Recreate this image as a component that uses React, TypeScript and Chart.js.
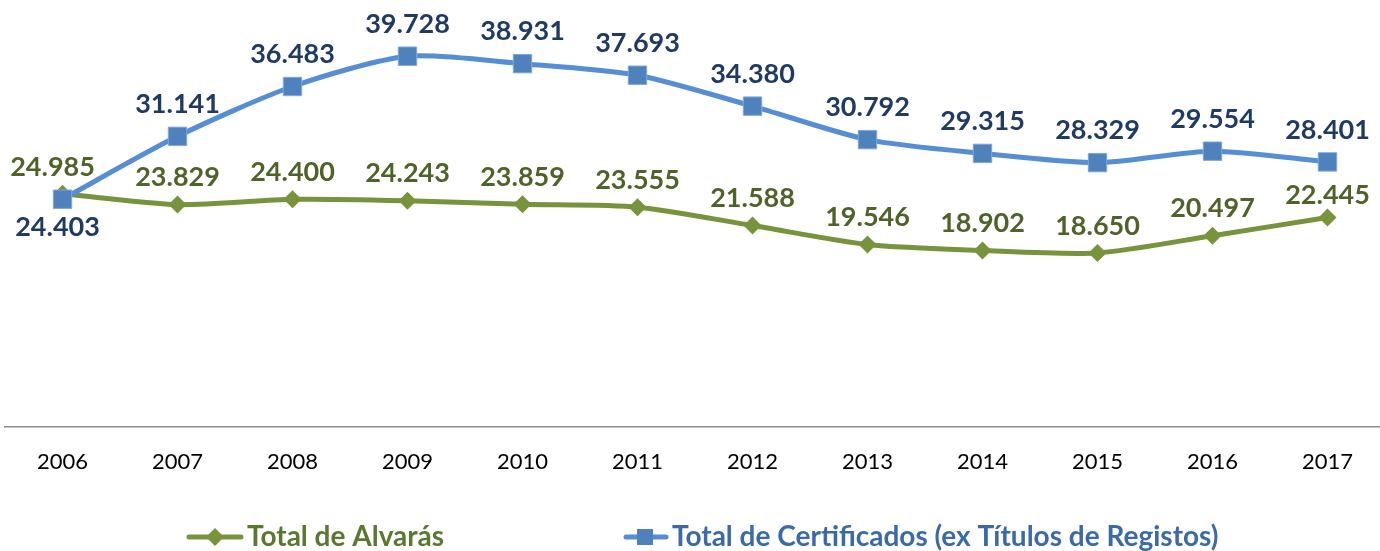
import React, { useEffect, useRef } from "react";
import { Chart, registerables } from "chart.js";

Chart.register(...registerables);

const years = ["2006", "2007", "2008", "2009", "2010", "2011", "2012", "2013", "2014", "2015", "2016", "2017"];
const alvaras = [24985, 23829, 24400, 24243, 23859, 23555, 21588, 19546, 18902, 18650, 20497, 22445];
const certificados = [24403, 31141, 36483, 39728, 38931, 37693, 34380, 30792, 29315, 28329, 29554, 28401];
const seriesNames = ["Total de Alvarás", "Total de Certificados (ex Títulos de Registos)"];

const GREEN_LINE = "#77933C";
const GREEN_TEXT = "#4F6228";
const GREEN_LEGEND = "#5A7830";
const BLUE_LINE = "#558ED5";
const BLUE_MARK = "#4F81BD";
const BLUE_TEXT = "#1F3B63";
const BLUE_LEGEND = "#3A6BA8";

function fmt(v: number): string {
  const th = Math.floor(v / 1000);
  const rest = String(v % 1000).padStart(3, "0");
  return th + "." + rest;
}

const labelPlugin = {
  id: "valueLabels",
  afterDatasetsDraw(chart: any) {
    const ctx = chart.ctx;
    ctx.save();
    ctx.font = "bold 27px Lato";
    ctx.textAlign = "center";
    ctx.textBaseline = "middle";
    chart.data.datasets.forEach((ds: any, di: number) => {
      const meta = chart.getDatasetMeta(di);
      const n = meta.data.length;
      meta.data.forEach((pt: any, i: number) => {
        let x = pt.x;
        let y = pt.y;
        if (di === 0) {
          y -= 27;
          if (i === 0) x -= 10;
          if (i === n - 1) y += 5;
          ctx.fillStyle = GREEN_TEXT;
        } else {
          if (i === 0) {
            y += 28;
            x -= 5;
          } else y -= 32;
          ctx.fillStyle = BLUE_TEXT;
        }
        ctx.fillText(fmt(ds.data[i]), x, y);
      });
    });
    ctx.restore();
  },
};

const legendPlugin = {
  id: "customLegend",
  afterDraw(chart: any) {
    const ctx = chart.ctx;
    const y = 537;
    ctx.save();
    ctx.strokeStyle = GREEN_LINE;
    ctx.lineWidth = 5;
    ctx.lineCap = "round";
    ctx.beginPath();
    ctx.moveTo(189, y);
    ctx.lineTo(241, y);
    ctx.stroke();
    ctx.fillStyle = GREEN_LINE;
    ctx.beginPath();
    ctx.moveTo(215, y - 9);
    ctx.lineTo(224, y);
    ctx.lineTo(215, y + 9);
    ctx.lineTo(206, y);
    ctx.closePath();
    ctx.fill();
    ctx.font = "bold 28px Lato";
    ctx.textAlign = "left";
    ctx.textBaseline = "middle";
    ctx.fillStyle = GREEN_LEGEND;
    ctx.fillText(seriesNames[0], 247, y);
    ctx.strokeStyle = BLUE_LINE;
    ctx.beginPath();
    ctx.moveTo(626, y);
    ctx.lineTo(666, y);
    ctx.stroke();
    ctx.fillStyle = BLUE_MARK;
    ctx.fillRect(637, y - 8, 16, 16);
    ctx.fillStyle = BLUE_LEGEND;
    ctx.fillText(seriesNames[1], 672, y);
    ctx.restore();
  },
};

export default function App() {
  const ref = useRef<HTMLCanvasElement | null>(null);
  useEffect(() => {
    if (!ref.current) return;
    const chart = new Chart(ref.current, {
      type: "line",
      data: {
        labels: years,
        datasets: [
          {
            label: seriesNames[0],
            data: alvaras,
            borderColor: GREEN_LINE,
            backgroundColor: GREEN_LINE,
            borderWidth: 5,
            tension: 0.25,
            pointStyle: "rectRot",
            pointRadius: 9,
            pointBorderWidth: 0,
            pointBackgroundColor: GREEN_LINE,
            order: 1,
          },
          {
            label: seriesNames[1],
            data: certificados,
            borderColor: BLUE_LINE,
            backgroundColor: BLUE_MARK,
            borderWidth: 5,
            tension: 0.25,
            pointStyle: "rect",
            pointRadius: 13,
            pointBorderWidth: 1,
            pointBorderColor: "#7FA7DA",
            pointBackgroundColor: BLUE_MARK,
            order: 0,
          },
        ],
      },
      options: {
        responsive: false,
        animation: false,
        devicePixelRatio: 1,
        layout: { autoPadding: false, padding: { left: 5, right: 1, top: 7, bottom: 0 } },
        plugins: {
          legend: { display: false },
          tooltip: { enabled: false },
        },
        scales: {
          x: {
            offset: true,
            grid: { display: false, drawTicks: false },
            border: { display: true, color: "#8A8A8A", width: 1.5 },
            ticks: {
              color: "#000000",
              font: { family: "Lato", size: 22 },
              padding: 22,
              maxRotation: 0,
              autoSkip: false,
            },
            afterFit: (scale: any) => {
              scale.height = 124;
            },
          },
          y: {
            display: false,
            min: 0,
            max: 45000,
          },
        },
      },
      plugins: [labelPlugin, legendPlugin],
    });
    return () => chart.destroy();
  }, []);
  return (
    <div style={{ position: "absolute", left: 0, top: 0, width: 1380, height: 551, overflow: "hidden", background: "#fff" }}>
      <canvas ref={ref} width={1386} height={551} style={{ width: 1386, height: 551, display: "block" }} />
    </div>
  );
}
